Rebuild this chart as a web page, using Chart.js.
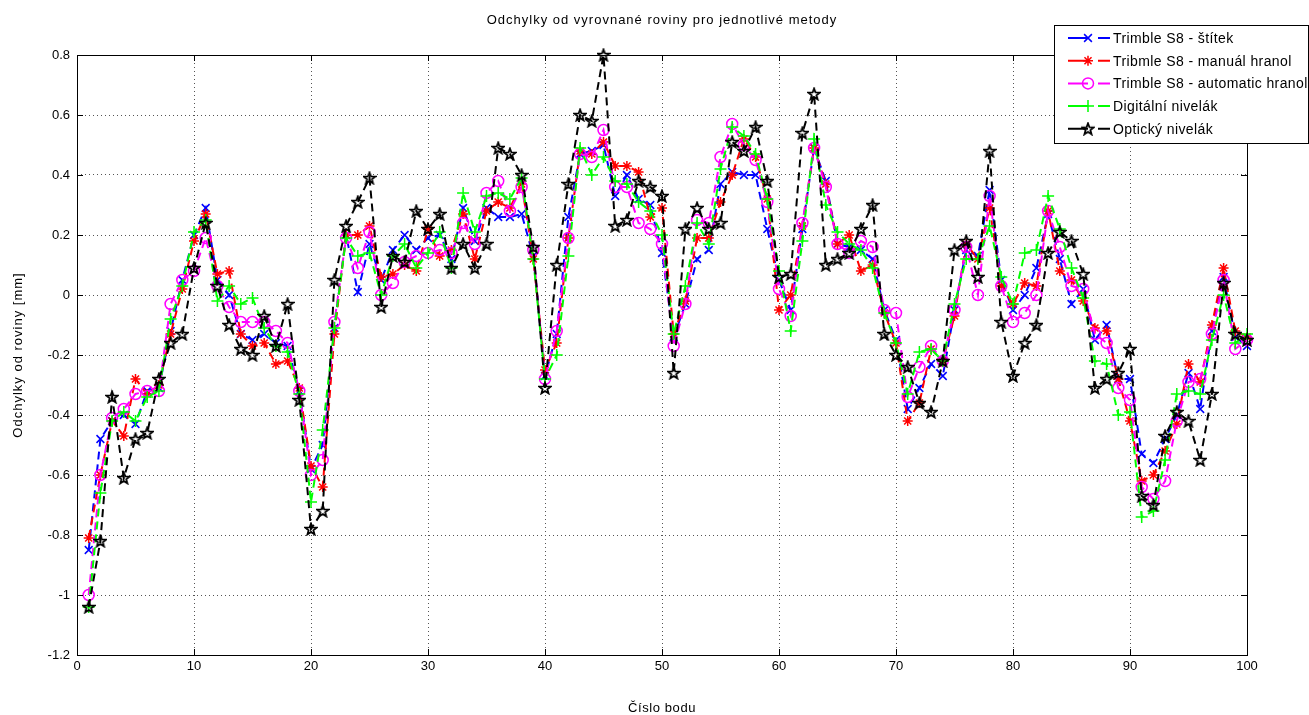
<!DOCTYPE html>
<html>
<head>
<meta charset="utf-8">
<script src="https://cdn.jsdelivr.net/npm/chart.js@4"></script>
<style>
html, body { margin: 0; padding: 0; background: #fff; }
#wrap { width: 1309px; height: 715px; position: relative; }
</style>
</head>
<body>
<div id="wrap"><canvas id="chart1"></canvas></div>
<script>
// point numbers 1..100
var pointNumbers = [];
for (var i = 1; i <= 100; i++) pointNumbers.push(i);

var xTicks = [0, 10, 20, 30, 40, 50, 60, 70, 80, 90, 100];
var yTicks = [-1.2, -1, -0.8, -0.6, -0.4, -0.2, 0, 0.2, 0.4, 0.6, 0.8];

var chartTitle = 'Odchylky od vyrovnané roviny pro jednotlivé metody';
var xTitle = 'Číslo bodu';
var yTitle = 'Odchylky od roviny [mm]';

var seriesNames = ['Trimble S8 - štítek', 'Tribmle S8 - manuál hranol', 'Trimble S8 - automatic hranol', 'Digitální nivelák', 'Optický nivelák'];

var stitek = [
  -0.85, -0.48, -0.42, -0.40, -0.43, -0.32, -0.31, -0.12, 0.05, 0.20,
  0.29, 0.05, 0.00, -0.13, -0.15, -0.13, -0.16, -0.17, -0.32, -0.58,
  -0.50, -0.11, 0.20, 0.01, 0.17, 0.05, 0.15, 0.20, 0.15, 0.19,
  0.20, 0.12, 0.29, 0.18, 0.29, 0.26, 0.26, 0.27, 0.13, -0.27,
  -0.13, 0.26, 0.47, 0.48, 0.50, 0.33, 0.40, 0.32, 0.30, 0.14,
  -0.14, -0.03, 0.12, 0.15, 0.37, 0.41, 0.40, 0.40, 0.22, 0.05,
  -0.05, 0.22, 0.49, 0.38, 0.17, 0.16, 0.15, 0.12, -0.05, -0.15,
  -0.38, -0.31, -0.23, -0.27, -0.05, 0.15, 0.13, 0.35, 0.05, -0.05,
  0.00, 0.09, 0.27, 0.12, -0.03, 0.02, -0.15, -0.10, -0.28, -0.28,
  -0.53, -0.56, -0.48, -0.40, -0.26, -0.38, -0.12, 0.06, -0.14, -0.17
];
var manual = [
  -0.81, -0.60, -0.42, -0.47, -0.28, -0.33, -0.30, -0.13, 0.02, 0.18,
  0.27, 0.07, 0.08, -0.13, -0.17, -0.16, -0.23, -0.22, -0.31, -0.57,
  -0.64, -0.13, 0.20, 0.20, 0.23, 0.06, 0.07, 0.10, 0.08, 0.22,
  0.13, 0.15, 0.27, 0.12, 0.28, 0.31, 0.29, 0.37, 0.12, -0.25,
  -0.16, 0.19, 0.48, 0.47, 0.51, 0.43, 0.43, 0.41, 0.26, 0.29,
  -0.13, -0.02, 0.19, 0.19, 0.31, 0.40, 0.52, 0.46, 0.32, -0.05,
  0.00, 0.23, 0.49, 0.37, 0.17, 0.20, 0.08, 0.10, -0.06, -0.16,
  -0.42, -0.36, -0.18, -0.22, -0.07, 0.17, 0.12, 0.29, 0.03, -0.03,
  0.04, 0.03, 0.28, 0.08, 0.05, -0.02, -0.11, -0.12, -0.28, -0.42,
  -0.62, -0.60, -0.52, -0.43, -0.23, -0.29, -0.10, 0.09, -0.12, -0.14
];
var automatic = [
  -1.00, -0.60, -0.41, -0.38, -0.33, -0.32, -0.32, -0.03, 0.05, 0.08,
  0.19, 0.03, -0.04, -0.09, -0.09, -0.09, -0.12, -0.16, -0.32, -0.60,
  -0.55, -0.09, 0.19, 0.09, 0.21, 0.00, 0.04, 0.11, 0.13, 0.14,
  0.15, 0.14, 0.24, 0.17, 0.34, 0.38, 0.28, 0.36, 0.15, -0.28,
  -0.12, 0.19, 0.47, 0.46, 0.55, 0.36, 0.36, 0.24, 0.22, 0.17,
  -0.17, -0.03, 0.25, 0.24, 0.46, 0.57, 0.50, 0.45, 0.31, 0.02,
  -0.07, 0.24, 0.49, 0.36, 0.17, 0.14, 0.18, 0.16, -0.05, -0.06,
  -0.34, -0.24, -0.17, -0.22, -0.05, 0.16, 0.00, 0.33, 0.03, -0.09,
  -0.06, 0.00, 0.28, 0.16, 0.03, 0.02, -0.13, -0.16, -0.31, -0.35,
  -0.64, -0.68, -0.62, -0.42, -0.29, -0.28, -0.13, 0.05, -0.18, -0.15
];
var digitalni = [
  -1.04, -0.66, -0.42, -0.39, -0.42, -0.34, -0.32, -0.08, 0.03, 0.21,
  0.25, -0.02, 0.03, -0.03, -0.01, -0.11, -0.17, -0.19, -0.33, -0.69,
  -0.45, -0.11, 0.19, 0.13, 0.14, 0.00, 0.13, 0.17, 0.09, 0.14,
  0.21, 0.09, 0.34, 0.21, 0.33, 0.34, 0.32, 0.39, 0.12, -0.28,
  -0.20, 0.13, 0.49, 0.40, 0.46, 0.38, 0.37, 0.31, 0.28, 0.20,
  -0.13, 0.03, 0.24, 0.17, 0.42, 0.56, 0.53, 0.47, 0.32, 0.08,
  -0.12, 0.18, 0.52, 0.30, 0.21, 0.17, 0.15, 0.09, -0.06, -0.16,
  -0.33, -0.19, -0.18, -0.22, -0.03, 0.12, 0.12, 0.23, 0.06, -0.03,
  0.14, 0.15, 0.33, 0.22, 0.09, -0.01, -0.22, -0.23, -0.40, -0.39,
  -0.74, -0.72, -0.55, -0.33, -0.32, -0.33, -0.15, 0.00, -0.16, -0.13
];
var opticky = [
  -1.04, -0.82, -0.34, -0.61, -0.48, -0.46, -0.28, -0.16, -0.13, 0.09,
  0.24, 0.03, -0.10, -0.18, -0.20, -0.07, -0.17, -0.03, -0.35, -0.78,
  -0.72, 0.05, 0.23, 0.31, 0.39, -0.04, 0.13, 0.11, 0.28, 0.22,
  0.27, 0.09, 0.17, 0.09, 0.17, 0.49, 0.47, 0.40, 0.16, -0.31,
  0.10, 0.37, 0.60, 0.58, 0.80, 0.23, 0.25, 0.38, 0.36, 0.33,
  -0.26, 0.22, 0.29, 0.22, 0.24, 0.51, 0.48, 0.56, 0.38, 0.06,
  0.07, 0.54, 0.67, 0.10, 0.12, 0.14, 0.22, 0.30, -0.13, -0.20,
  -0.24, -0.36, -0.39, -0.22, 0.15, 0.18, 0.06, 0.48, -0.09, -0.27,
  -0.16, -0.10, 0.14, 0.21, 0.18, 0.07, -0.31, -0.28, -0.26, -0.18,
  -0.67, -0.70, -0.47, -0.39, -0.42, -0.55, -0.33, 0.04, -0.13, -0.15
];

// pentagram marker for the black series
function makePentagram() {
  var c = document.createElement('canvas');
  c.width = 14; c.height = 14;
  var g = c.getContext('2d');
  g.beginPath();
  for (var k = 0; k < 10; k++) {
    var r = (k % 2 == 0) ? 6.0 : 2.5;
    var a = -Math.PI / 2 + k * Math.PI / 5;
    var px = 7 + r * Math.cos(a), py = 7.5 + r * Math.sin(a);
    if (k == 0) g.moveTo(px, py); else g.lineTo(px, py);
  }
  g.closePath();
  g.strokeStyle = '#000';
  g.lineWidth = 1.8;
  g.stroke();
  return c;
}
var pentagram = makePentagram();

function toPoints(vals) {
  var out = [];
  for (var k = 0; k < vals.length; k++) out.push({ x: pointNumbers[k], y: vals[k] });
  return out;
}

var styles = [
  { color: '#0000ff', point: 'crossRot', radius: 5.5, order: 5 },
  { color: '#ff0000', point: 'star', radius: 5, order: 4 },
  { color: '#ff00ff', point: 'circle', radius: 5.5, order: 3 },
  { color: '#00ff00', point: 'cross', radius: 6, order: 2 },
  { color: '#000000', point: pentagram, radius: 6, order: 1 }
];
var allSeries = [stitek, manual, automatic, digitalni, opticky];

var datasets = [];
for (var s = 0; s < allSeries.length; s++) {
  datasets.push({
    label: seriesNames[s],
    data: toPoints(allSeries[s]),
    borderColor: styles[s].color,
    backgroundColor: 'rgba(0,0,0,0)',
    pointBorderColor: styles[s].color,
    pointBackgroundColor: 'rgba(0,0,0,0)',
    pointStyle: styles[s].point,
    pointRadius: styles[s].radius,
    pointBorderWidth: 1.5,
    borderWidth: 2,
    borderDash: [8, 5],
    tension: 0,
    order: styles[s].order,
    clip: false
  });
}

function spacedText(ctx, txt, x, y, spacing) {
  if ('letterSpacing' in ctx) {
    ctx.letterSpacing = spacing + 'px';
    ctx.fillText(txt, x, y);
    ctx.letterSpacing = '0px';
  } else {
    ctx.fillText(txt, x, y);
  }
}

var matlabFrame = {
  id: 'matlabFrame',
  afterDraw: function(chart) {
    var ctx = chart.ctx, a = chart.chartArea;
    var xs = chart.scales.x, ys = chart.scales.y;
    ctx.save();
    ctx.strokeStyle = '#000';
    ctx.lineWidth = 1;
    ctx.setLineDash([]);
    ctx.strokeRect(Math.round(a.left) + 0.5, Math.round(a.top) + 0.5, Math.round(a.right - a.left), Math.round(a.bottom - a.top));
    ctx.beginPath();
    xTicks.forEach(function(t) {
      var px = Math.round(xs.getPixelForValue(t)) + 0.5;
      ctx.moveTo(px, a.bottom); ctx.lineTo(px, a.bottom - 6);
      ctx.moveTo(px, a.top); ctx.lineTo(px, a.top + 6);
    });
    yTicks.forEach(function(t) {
      var py = Math.round(ys.getPixelForValue(t)) + 0.5;
      ctx.moveTo(a.left, py); ctx.lineTo(a.left + 6, py);
      ctx.moveTo(a.right, py); ctx.lineTo(a.right - 6, py);
    });
    ctx.stroke();

    // titles
    ctx.fillStyle = '#000';
    ctx.font = '13px "Liberation Sans", Arial, sans-serif';
    ctx.textAlign = 'center';
    ctx.textBaseline = 'middle';
    var cx = (a.left + a.right) / 2;
    spacedText(ctx, chartTitle, cx, 20, 1);
    spacedText(ctx, xTitle, cx, 708, 0.6);
    ctx.save();
    ctx.translate(18, (a.top + a.bottom) / 2);
    ctx.rotate(-Math.PI / 2);
    spacedText(ctx, yTitle, 0, 0, 1);
    ctx.restore();

    // legend box
    var lx = 1054, ly = 25, lw = 254, lh = 118;
    ctx.fillStyle = '#fff';
    ctx.fillRect(lx, ly, lw, lh);
    ctx.strokeStyle = '#000';
    ctx.strokeRect(lx + 0.5, ly + 0.5, lw, lh);
    ctx.font = '14px "Liberation Sans", Arial, sans-serif';
    ctx.textAlign = 'left';
    for (var k = 0; k < seriesNames.length; k++) {
      var yy = 38 + k * 22.7;
      ctx.strokeStyle = styles[k].color;
      ctx.lineWidth = 2;
      ctx.beginPath();
      ctx.moveTo(1068, yy); ctx.lineTo(1088, yy);
      ctx.moveTo(1098, yy); ctx.lineTo(1110, yy);
      ctx.stroke();
      ctx.fillStyle = 'rgba(0,0,0,0)';
      ctx.lineWidth = 1.5;
      Chart.helpers.drawPoint(ctx, { pointStyle: styles[k].point, radius: styles[k].radius, rotation: 0, borderWidth: 1.5 }, 1088, yy);
      ctx.fillStyle = '#000';
      spacedText(ctx, seriesNames[k], 1113, yy + 1, 0.4);
    }
    ctx.restore();
  }
};

Chart.defaults.font.family = '"Liberation Sans", Arial, sans-serif';
Chart.defaults.font.size = 13;
Chart.defaults.color = '#000';

var ctx1 = document.getElementById('chart1').getContext('2d');
var chart1 = new Chart(ctx1, {
  type: 'line',
  data: { datasets: datasets },
  options: {
    responsive: true,
    maintainAspectRatio: false,
    animation: false,
    events: [],
    layout: { padding: { left: 0, right: 62, top: 55, bottom: 0 } },
    plugins: {
      legend: { display: false },
      title: { display: false },
      tooltip: { enabled: false }
    },
    scales: {
      x: {
        type: 'linear',
        min: 0,
        max: 100,
        afterBuildTicks: function(scale) { scale.ticks = xTicks.map(function(v) { return { value: v }; }); },
        afterFit: function(scale) { scale.height = 60; },
        ticks: { padding: 4, maxRotation: 0, autoSkip: false, callback: function(v) { return String(v); } },
        grid: { color: '#555', lineWidth: 1, drawTicks: false },
        border: { display: false, dash: [1, 3] }
      },
      y: {
        type: 'linear',
        min: -1.2,
        max: 0.8,
        afterBuildTicks: function(scale) { scale.ticks = yTicks.map(function(v) { return { value: v }; }); },
        afterFit: function(scale) { scale.width = 77; },
        ticks: { padding: 7, autoSkip: false, callback: function(v) { return String(Math.round(v * 10) / 10); } },
        grid: { color: '#555', lineWidth: 1, drawTicks: false },
        border: { display: false, dash: [1, 3] }
      }
    }
  },
  plugins: [matlabFrame]
});
</script>
</body>
</html>
